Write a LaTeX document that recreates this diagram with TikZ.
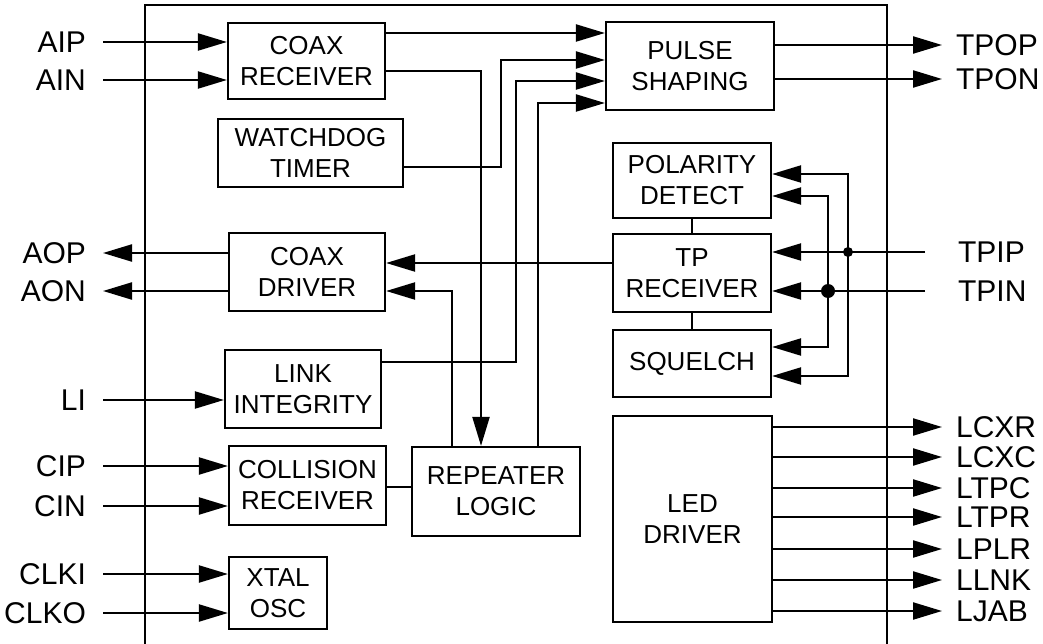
\documentclass[tikz,border=0pt]{standalone}
\usepackage{fontspec}
\setmainfont{Liberation Sans}
\usetikzlibrary{arrows.meta}

\begin{document}
\begin{tikzpicture}[x=1pt,y=-1pt,line width=2.2pt,
  blk/.style={draw,inner sep=0pt,align=center,font=\fontsize{26}{31}\selectfont},
  pin/.style={inner sep=0pt,font=\fontsize{30}{34}\selectfont},
  arr/.style={-{Triangle[length=29pt,width=17pt]}}]
  \useasboundingbox (0,0) rectangle (1043,644);
  % chip outline, runs off the bottom edge
  \draw (145,644) -- (145,5) -- (887,5) -- (887,644);
  % blocks
  \node[blk,minimum width=157,minimum height=76] (crx) at (306.5,61) {COAX\\RECEIVER};
  \node[blk,minimum width=185,minimum height=68] (wdt) at (310.5,153) {WATCHDOG\\TIMER};
  \node[blk,minimum width=156,minimum height=78] (cdrv) at (307,272) {COAX\\DRIVER};
  \node[blk,minimum width=156,minimum height=78] (lnk) at (303,389) {LINK\\INTEGRITY};
  \node[blk,minimum width=157,minimum height=79] (col) at (307.5,485.5) {COLLISION\\RECEIVER};
  \node[blk,minimum width=98,minimum height=72] (xtal) at (278,593) {XTAL\\OSC};
  \node[blk,minimum width=168,minimum height=89] (rep) at (496,491.5) {REPEATER\\LOGIC};
  \node[blk,minimum width=168,minimum height=88] (pls) at (690,66) {PULSE\\SHAPING};
  \node[blk,minimum width=158,minimum height=75] (pol) at (692,180.5) {POLARITY\\DETECT};
  \node[blk,minimum width=158,minimum height=78] (tpr) at (692,273) {TP\\RECEIVER};
  \node[blk,minimum width=158,minimum height=67] (sql) at (692,363.5) {SQUELCH};
  \node[blk,minimum width=159,minimum height=206] (led) at (692.5,519) {LED\\DRIVER};
  % pins, left side
  \foreach \n/\y/\b in {AIP/42/crx,AIN/80/crx,LI/400/lnk,CIP/466/col,CIN/506/col,CLKI/574/xtal,CLKO/613/xtal}{
    \node[pin,anchor=east] (l\n) at (87,\y) {\n};
    \coordinate (p\n) at (103,\y);
    \draw[arr] (p\n) -- (p\n -| \b.west);
  }
  \foreach \n/\y in {AOP/253,AON/291}{
    \node[pin,anchor=east] (l\n) at (87,\y) {\n};
    \coordinate (p\n) at (103,\y);
    \draw[arr] (p\n -| cdrv.west) -- (p\n);
  }
  % pins, right side
  \foreach \n/\y/\b in {TPOP/45/pls,TPON/79/pls,LCXR/427/led,LCXC/457/led,LTPC/488/led,LTPR/517/led,LPLR/549/led,LLNK/580/led,LJAB/611/led}{
    \node[pin,anchor=west] (l\n) at (955,\y) {\n};
    \coordinate (p\n) at (942,\y);
    \draw[arr] (p\n -| \b.east) -- (p\n);
  }
  \foreach \n/\y in {TPIP/252,TPIN/291}{
    \node[pin,anchor=west] (l\n) at (957,\y) {\n};
    \coordinate (p\n) at (925,\y);
    \draw[arr] (p\n) -- (p\n -| tpr.east);
  }
  % internal wiring
  \draw[arr] (crx.east |- 0,33) -- (pls.west |- 0,33);
  \draw[arr] (crx.east |- 0,71) -| (rep.north -| 481,0);
  \draw[arr] (wdt.east |- 0,167) -| (501,60) -- (pls.west |- 0,60);
  \draw[arr] (lnk.east |- 0,362) -| (516,81) -- (pls.west |- 0,81);
  \draw[arr] (rep.north -| 538,0) |- (pls.west |- 0,103);
  \draw[arr] (rep.north -| 452,0) |- (cdrv.east |- 0,291);
  \draw[arr] (tpr.west |- 0,263) -- (cdrv.east |- 0,263);
  \draw (col.east |- 0,487) -- (rep.west |- 0,487);
  \draw (pol.south) -- (tpr.north);
  \draw (tpr.south) -- (sql.north);
  % twisted pair taps
  \coordinate (jp) at (848,252);
  \coordinate (jn) at (828,291);
  \draw[arr] (jp) |- (pol.east |- 0,174);
  \draw[arr] (jp) |- (sql.east |- 0,376);
  \draw[arr] (jn) |- (pol.east |- 0,196);
  \draw[arr] (jn) |- (sql.east |- 0,347);
  \fill (jp) circle (5);
  \fill (jn) circle (7);
\end{tikzpicture}
\end{document}
